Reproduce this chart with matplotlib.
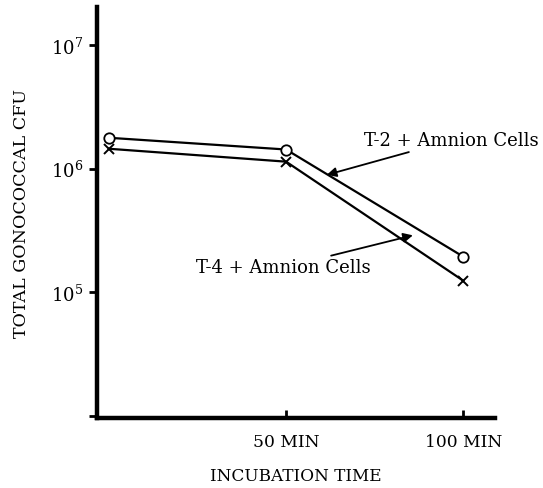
import matplotlib
matplotlib.use("Agg")
import matplotlib.pyplot as plt

plt.rcParams['font.family'] = ['DejaVu Serif']
plt.rcParams['mathtext.fontset'] = 'dejavuserif'

# incubation time (min)
time_min = [0, 50, 100]
# total gonococcal CFU
t2_cfu = [1.78e6, 1.43e6, 1.94e5]   # T-2 + Amnion Cells (circles)
t4_cfu = [1.45e6, 1.14e6, 1.24e5]   # T-4 + Amnion Cells (X)

y_ticks = [1e4, 1e5, 1e6, 1e7]
y_tick_labels = ['', r'$10^5$', r'$10^6$', r'$10^7$']
x_ticks = [50, 100]
x_tick_labels = ['50 MIN', '100 MIN']

fig = plt.figure(figsize=(5.43, 4.89), dpi=100)
ax = fig.add_axes([97 / 543, 70 / 489, 398 / 543, 411 / 489])

ax.plot(time_min, t2_cfu, color='black', lw=1.6, marker='o', ms=7.5,
        mfc='white', mec='black', mew=1.3, zorder=3)
ax.plot(time_min, t4_cfu, color='black', lw=1.6, marker='x', ms=6.5,
        mec='black', mew=1.4, zorder=3)

ax.set_yscale('log')
ax.set_xlim(-3.4, 109)
ax.set_ylim(10 ** 3.98, 10 ** 7.31)

ax.set_yticks(y_ticks)
ax.set_yticklabels(y_tick_labels, fontsize=13)
ax.minorticks_off()
ax.tick_params(axis='y', direction='out', length=6, width=2, pad=4)
ax.set_xticks(x_ticks)
ax.set_xticklabels(x_tick_labels, fontsize=12.3)
ax.tick_params(axis='x', direction='in', length=6, width=2, pad=11)

for s in ['top', 'right']:
    ax.spines[s].set_visible(False)
for s in ['left', 'bottom']:
    ax.spines[s].set_linewidth(3.2)

ax.set_ylabel('TOTAL GONOCOCCAL CFU', fontsize=12.6, labelpad=15)
ax.set_xlabel('INCUBATION TIME', fontsize=12.2, labelpad=12)

ax.annotate('T-2 + Amnion Cells', xy=(61.5, 10 ** 5.95), xytext=(72, 10 ** 6.23),
            fontsize=13, va='center', ha='left',
            arrowprops=dict(arrowstyle='-|>', color='black', lw=1.3,
                            mutation_scale=14, shrinkA=0, shrinkB=0))
ax.annotate('T-4 + Amnion Cells', xy=(85.8, 10 ** 5.46), xytext=(74, 10 ** 5.2),
            fontsize=13, va='center', ha='right',
            arrowprops=dict(arrowstyle='-|>', color='black', lw=1.3,
                            mutation_scale=14, shrinkA=0, shrinkB=0))

fig.savefig('out.png', dpi=100)
